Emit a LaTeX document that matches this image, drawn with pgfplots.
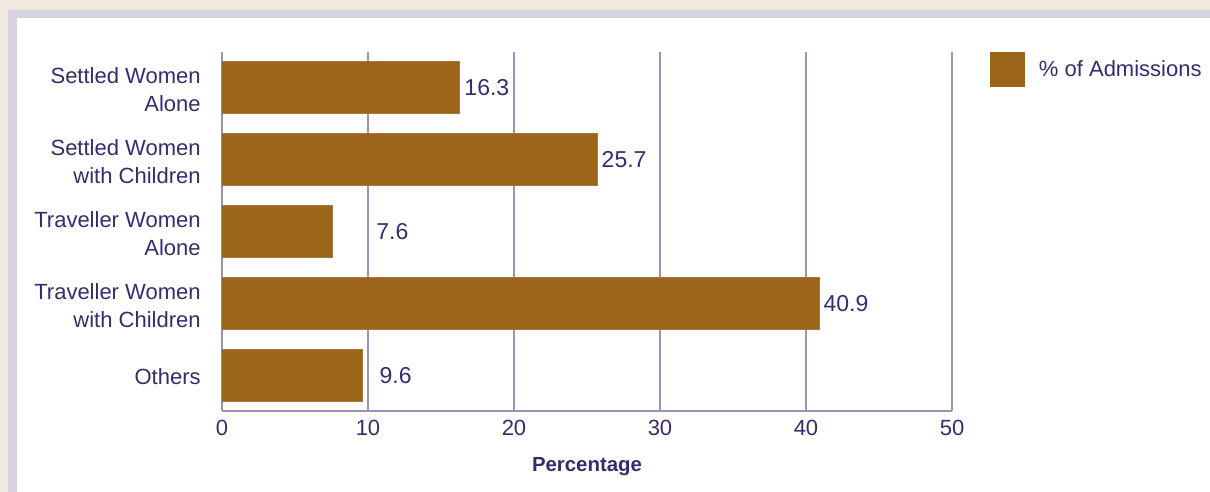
\documentclass[border=0pt]{standalone}
\usepackage{pgfplots}
\pgfplotsset{compat=1.18}
\usepackage{fontspec}
\setmainfont{Liberation Sans}
\definecolor{bgc}{HTML}{F1EAE0}
\definecolor{framec}{HTML}{D6D2E2}
\definecolor{barc}{HTML}{9A6519}
\definecolor{barline}{HTML}{A8773A}
\definecolor{gridc}{HTML}{9B91B4}
\definecolor{txt}{HTML}{3B2A6B}
\newcommand\lab{\fontsize{11}{14}\selectfont}
\begin{document}
\begin{tikzpicture}[x=0.5pt,y=0.5pt]
\useasboundingbox (0,0) rectangle (1210,492);
\fill[bgc] (0,0) rectangle (1210,492);
\fill[framec] (8,0) rectangle (1210,482);
\fill[white] (17,0) rectangle (1210,474);
\begin{axis}[
  at={(111pt,40.5pt)}, anchor=south west,
  scale only axis, width=365pt, height=179.5pt,
  xmin=0, xmax=50, ymin=-0.5, ymax=4.5, y dir=reverse,
  xbar, bar width=26pt, bar shift=0pt,
  xtick={0,10,20,30,40,50},
  ytick={0,1,2,3,4},
  yticklabels={{Settled Women\\Alone},{Settled Women\\with Children},{Traveller Women\\Alone},{Traveller Women\\with Children},{Others}},
  xmajorgrids, grid style={gridc, line width=1.3pt},
  axis x line*=bottom, axis y line*=left,
  axis line style={gridc, line width=1.3pt, -},
  major tick length=0pt,
  tick label style={text=txt, font=\lab},
  /pgf/number format/assume math mode=true,
  yticklabel style={align=right, inner sep=0pt, xshift=-10.5pt, yshift=-1pt},
  xticklabel style={inner sep=0pt, anchor=north, yshift=-4.5pt},
  xlabel={Percentage},
  xlabel style={at={(axis description cs:0.5,0)}, anchor=north, inner sep=0pt, yshift=-23pt, text=txt, font=\fontsize{10.2}{12}\selectfont\bfseries},
  nodes near coords={\pgfmathprintnumber[fixed,precision=1,fixed zerofill]{\pgfplotspointmeta}},
  point meta=x,
  nodes near coords style={anchor=west, text=txt, inner sep=0pt, xshift=2pt, font=\fontsize{11.5}{14}\selectfont, /pgf/number format/assume math mode=true},
  legend style={at={(1.052,1)}, anchor=north west, draw=none, fill=none, inner sep=0pt, outer sep=0pt, font=\lab, text=txt, nodes={inner sep=0pt}},
  legend image code/.code={\fill[barc] (0pt,-8.6pt) rectangle (17.2pt,8.6pt); \path (24pt,0pt);},
]
\addplot[fill=barc, draw=barline, line width=0.5pt] coordinates {(16.3,0) (25.7,1) (40.9,3)};
\addlegendentry{\% of Admissions}
\addplot[fill=barc, draw=barline, line width=0.5pt, nodes near coords style={xshift=19.5pt}, forget plot] coordinates {(7.6,2)};
\addplot[fill=barc, draw=barline, line width=0.5pt, nodes near coords style={xshift=6.5pt}, forget plot] coordinates {(9.6,4)};
\end{axis}
\end{tikzpicture}
\end{document}
